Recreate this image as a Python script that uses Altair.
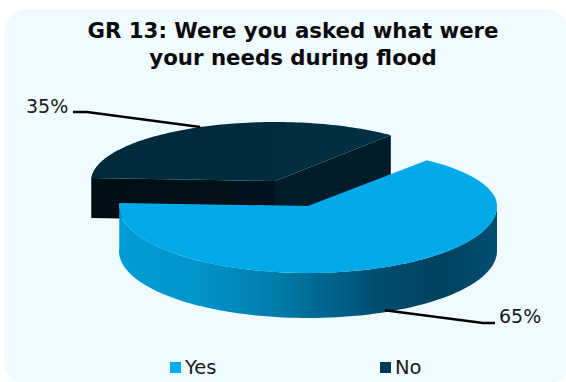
import math
import altair as alt

# Survey answers and chart wording
categories = ["Yes", "No"]
shares = [65, 35]
title_lines = ["GR 13: Were you asked what were", "your needs during flood"]

WIDTH, HEIGHT = 566, 382
START_DEG = 177  # where the "Yes" slice begins, measured on the pie's ellipse


def rim(cx, cy, rx, ry_far, ry_near, t0, t1, drop=0.0, steps=90):
    """Points along a tilted pie's rim; the far half is foreshortened more."""
    pts = []
    for i in range(steps + 1):
        t = math.radians(t0 + (t1 - t0) * i / steps)
        s = math.sin(t)
        pts.append([cx + rx * math.cos(t), cy - (ry_far if s > 0 else ry_near) * s + drop])
    return pts


def polygon(points):
    return {"type": "Feature", "properties": {},
            "geometry": {"type": "Polygon", "coordinates": [points + [points[0]]]}}


def path(points):
    return {"type": "Feature", "properties": {},
            "geometry": {"type": "LineString", "coordinates": points}}


def shape(feature, fill):
    return alt.Chart(alt.Data(values=[feature])).mark_geoshape(
        fill=fill, stroke=None, strokeWidth=0
    ).project(type="identity", scale=1, translate=[0, 0])


def gradient(stops):
    return alt.LinearGradient(
        gradient="linear", x1=0, x2=1, y1=0, y2=0,
        stops=[alt.GradientStop(offset=o, color=c) for o, c in stops],
    )


# Slice angles come straight from the shares
yes_sweep = shares[0] * 3.6
no_sweep = shares[1] * 3.6
yes_a0, yes_a1 = START_DEG, START_DEG + yes_sweep
no_a0, no_a1 = START_DEG - no_sweep, START_DEG

# The larger slice is pulled forward and to the right of the smaller one
YES = dict(cx=308, cy=206, rx=189, ry_far=59, ry_near=67)
NO = dict(cx=275, cy=181, rx=184, ry_far=59, ry_near=67)
YES_DEPTH, NO_DEPTH = 45, 40

# "No" slice: two cut faces and the top
no_top = rim(**NO, t0=no_a0, t1=no_a1)
no_tip = [NO["cx"], NO["cy"]]
no_left = no_top[-1]
no_right = no_top[0]
no_face_left = polygon([no_left, no_tip, [no_tip[0], no_tip[1] + NO_DEPTH], [no_left[0], no_left[1] + NO_DEPTH]])
no_face_right = polygon([no_tip, no_right, [no_right[0], no_right[1] + NO_DEPTH], [no_tip[0], no_tip[1] + NO_DEPTH]])
no_surface = polygon([no_tip] + no_top)

# "Yes" slice: outer wall on the near side, then the top
yes_top = rim(**YES, t0=yes_a0, t1=yes_a1)
yes_tip = [YES["cx"], YES["cy"]]
yes_front = rim(**YES, t0=yes_a0, t1=360)
yes_front_low = rim(**YES, t0=yes_a0, t1=360, drop=YES_DEPTH)
yes_wall = polygon(yes_front + yes_front_low[::-1])
yes_surface = polygon([yes_tip] + yes_top)


# Leader lines leave each slice at its mid angle
def mid_point(geom, angle, drop=0.0):
    return rim(**geom, t0=angle, t1=angle, drop=drop, steps=1)[0]


no_anchor = mid_point(NO, (no_a0 + no_a1) / 2)
yes_anchor = mid_point(YES, (yes_a0 + yes_a1) / 2, drop=YES_DEPTH - 2)
no_leader = path([no_anchor, [87, 112], [73, 112]])
yes_leader = path([yes_anchor, [483, 323], [495, 323]])

panel = alt.Chart(alt.Data(values=[{"a": 1}])).mark_rect(
    color="#F0FBFF", cornerRadius=24
).encode(x=alt.value(4), x2=alt.value(570), y=alt.value(9), y2=alt.value(385))

layers = [
    panel,
    shape(no_face_left, gradient([(0, "#000E15"), (1, "#00131C")])),
    shape(no_face_right, gradient([(0, "#001D29"), (1, "#001C28")])),
    shape(no_surface, gradient([(0, "#002A3C"), (0.6, "#002C3E"), (1, "#003044")])),
    shape(yes_wall, gradient([
        (0, "#009CD6"), (0.2, "#0094CA"), (0.43, "#007AA8"),
        (0.68, "#004E70"), (0.85, "#00415F"), (1, "#004F70"),
    ])),
    shape(yes_surface, "#00A9E8"),
]

for leader in (no_leader, yes_leader):
    layers.append(
        alt.Chart(alt.Data(values=[leader])).mark_geoshape(
            filled=False, stroke="#000000", strokeWidth=2.5
        ).project(type="identity", scale=1, translate=[0, 0])
    )


def text_mark(label, x, y, size, weight="normal", align="left", color="#1A1A1A"):
    return alt.Chart(alt.Data(values=[{"label": label}])).mark_text(
        font="DejaVu Sans", fontSize=size, fontWeight=weight, align=align,
        baseline="alphabetic", color=color,
    ).encode(x=alt.value(x), y=alt.value(y), text="label:N")


layers.append(text_mark(title_lines[0], 293, 38, 21.3, "bold", "center", "#0A0A0A"))
layers.append(text_mark(title_lines[1], 293, 65, 21.3, "bold", "center", "#0A0A0A"))
layers.append(text_mark(f"{shares[1]}%", 26, 113, 19))
layers.append(text_mark(f"{shares[0]}%", 499, 323, 19))

# Legend swatches and names
legend_colors = ["#00ADEF", "#003A55"]
for name, color, sx, tx in zip(categories, legend_colors, [170, 380], [185, 395]):
    layers.append(
        alt.Chart(alt.Data(values=[{"a": 1}])).mark_rect(color=color).encode(
            x=alt.value(sx), x2=alt.value(sx + 11), y=alt.value(362), y2=alt.value(373)
        )
    )
    layers.append(text_mark(name, tx, 374, 19.5))

chart = alt.layer(*layers).properties(
    width=WIDTH, height=HEIGHT, padding=0, background="#FFFFFF",
    autosize=alt.AutoSizeParams(type="none"),
).configure_view(stroke=None)

chart.save("out.html", embed_options={"renderer": "svg", "actions": False})
